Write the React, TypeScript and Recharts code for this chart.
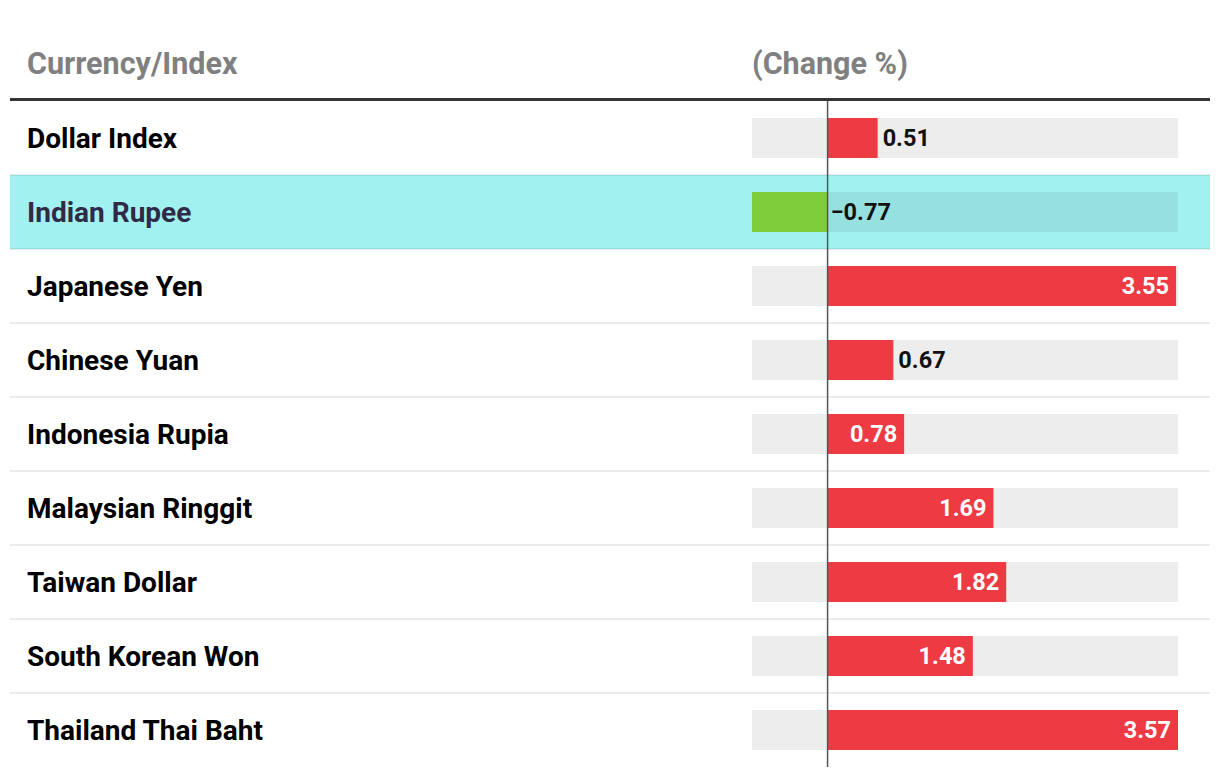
import { BarChart, Bar, XAxis, YAxis, Cell, LabelList, ReferenceLine } from 'recharts';

const categories = [
  'Dollar Index',
  'Indian Rupee',
  'Japanese Yen',
  'Chinese Yuan',
  'Indonesia Rupia',
  'Malaysian Ringgit',
  'Taiwan Dollar',
  'South Korean Won',
  'Thailand Thai Baht',
];
const changes = [0.51, -0.77, 3.55, 0.67, 0.78, 1.69, 1.82, 1.48, 3.57];
const highlighted = ['Indian Rupee'];
const headers = ['Currency/Index', '(Change %)'];

const data = categories.map((name, i) => ({ name, value: changes[i] }));

const W = 1220;
const H = 776;
const M = { top: 101, right: 42, bottom: 9, left: 10 };
const LABEL_W = 742;
const rowH = (H - M.top - M.bottom) / data.length;
const FONT = 'Roboto, sans-serif';

const UP = '#ee3a43';
const DOWN = '#7fcd3a';

function RowBackground(props: any) {
  const { x, y, width, height, index } = props;
  const row = data[index];
  const isHi = row && highlighted.includes(row.name);
  const top = y + height / 2 - rowH / 2;
  return (
    <g>
      {isHi && <rect x={M.left} y={top} width={W - M.left * 2} height={rowH} fill="#a2f1f1" />}
      {index > 0 && (
        <line x1={M.left} x2={W - M.left} y1={top} y2={top} stroke="rgba(0,0,0,0.08)" strokeWidth={2} />
      )}
      <rect x={x} y={y} width={width} height={height} fill="rgba(0,0,0,0.07)" />
    </g>
  );
}

function CategoryTick(props: any) {
  const { y, payload } = props;
  const isHi = highlighted.includes(payload.value);
  return (
    <text
      x={27}
      y={y}
      dy="0.355em"
      fontFamily={FONT}
      fontSize={28}
      fontWeight={700}
      fill={isHi ? '#2f2a47' : '#000'}
    >
      {payload.value}
    </text>
  );
}

function ValueLabel(props: any) {
  const { x, y, width, height, value } = props;
  const left = Math.min(x, x + width);
  const right = Math.max(x, x + width);
  const w = right - left;
  const cy = y + height / 2;
  const common = { y: cy, dy: '0.355em', fontFamily: FONT, fontSize: 23.5, fontWeight: 700 };
  const txt = value < 0 ? `\u2212${Math.abs(value).toFixed(2)}` : value.toFixed(2);
  if (value < 0) {
    return (
      <text {...common} x={right + 3} fill="#111">
        {txt}
      </text>
    );
  }
  if (w > 72) {
    return (
      <text {...common} x={right - 7} textAnchor="end" fill="#fff">
        {txt}
      </text>
    );
  }
  return (
    <text {...common} x={right + 5} fill="#111">
      {txt}
    </text>
  );
}

export default function App() {
  const min = Math.min(...changes);
  const max = Math.max(...changes);
  return (
    <div style={{ position: 'absolute', left: 0, top: 0, width: W, height: H, background: '#fff' }}>
      <BarChart width={W} height={H} data={data} layout="vertical" margin={M}>
        <XAxis type="number" domain={[min, max]} hide />
        <YAxis
          type="category"
          dataKey="name"
          width={LABEL_W}
          axisLine={false}
          tickLine={false}
          tick={<CategoryTick />}
        />
        <Bar dataKey="value" barSize={40} background={(p: any) => <RowBackground {...p} />} isAnimationActive={false}>
          {data.map((d) => (
            <Cell key={d.name} fill={d.value < 0 ? DOWN : UP} />
          ))}
          <LabelList dataKey="value" content={<ValueLabel />} />
        </Bar>
        <ReferenceLine x={0} stroke="#555" strokeWidth={1.5} />
      </BarChart>
      <svg width={W} height={M.top} style={{ position: 'absolute', left: 0, top: 0 }}>
        <text x={27} y={74} fontFamily={FONT} fontSize={30.5} fontWeight={700} fill="#808080">
          {headers[0]}
        </text>
        <text x={M.left + LABEL_W} y={74} fontFamily={FONT} fontSize={30.5} fontWeight={700} fill="#808080">
          {headers[1]}
        </text>
        <rect x={M.left} y={98} width={W - M.left * 2} height={3} fill="#333" />
      </svg>
    </div>
  );
}
